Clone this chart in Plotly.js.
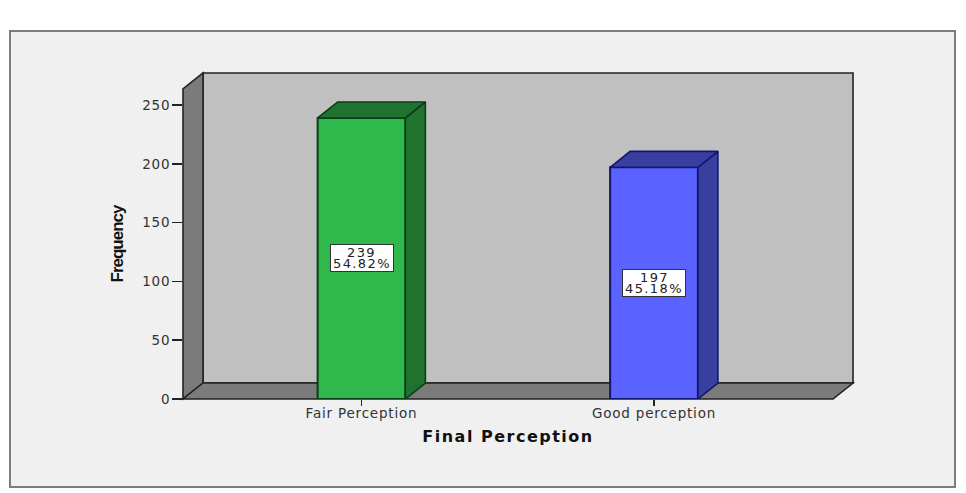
<!DOCTYPE html>
<html>
<head>
<meta charset="utf-8">
<script src="https://cdn.plot.ly/plotly-3.0.1.min.js"></script>
<style>
html,body{margin:0;padding:0;background:#fff;}
#chart{width:966px;height:493px;}
.xtick text,.ytick text{letter-spacing:0.8px;}
.annotation-text{letter-spacing:1.4px;}
.xtitle{letter-spacing:1.5px;}
.ytitle{letter-spacing:-1px;}
</style>
</head>
<body>
<div id="chart"></div>
<script>
const categories = ["Fair Perception", "Good perception"];
const frequencies = [239, 197];
const percents = ["54.82%", "45.18%"];
const barColors = ["#2fb84b", "#5a62ff"];
const sideColors = ["#1f732f", "#393f9e"];
const edgeColors = ["#0b3d16", "#11166e"];
const yTicks = [0, 50, 100, 150, 200, 250];

const W = 966, H = 493, L = 183, R = 833, T = 89, B = 399;
const depthX = 20, depthY = 16;
const xRange = [-0.6103, 1.612], yRange = [0, 263.6];
const barW = 0.30, dX = 0.0684, dY = 13.6;
const wallLine = {color: "#222", width: 1.6};
const labelFont = {family: "DejaVu Sans, sans-serif", size: 13, color: "#222"};
const tickFont = {family: "DejaVu Sans, sans-serif", size: 13.5, color: "#333"};
const px = v => (v - L) / (R - L);
const py = v => (B - v) / (B - T);

function poly(points) {
  return "M" + points.map(p => p[0] + "," + p[1]).join("L") + "Z";
}
function wall(points, fill, line) {
  return {type: "path", xref: "paper", yref: "paper", layer: "below", fillcolor: fill, line: line || wallLine,
    path: poly(points.map(p => [px(p[0]), py(p[1])]))};
}

const traces = [{
  type: "bar", x: [0, 1], y: frequencies, width: barW,
  marker: {color: barColors, line: {color: edgeColors, width: 2}},
  hoverinfo: "skip", showlegend: false
}];
frequencies.forEach((v, i) => {
  const a = i - barW / 2, b = i + barW / 2;
  const style = {type: "scatter", mode: "lines", fill: "toself", fillcolor: sideColors[i],
    line: {color: edgeColors[i], width: 1.6}, hoverinfo: "skip", showlegend: false};
  traces.push(Object.assign({}, style, {
    x: [b, b + dX, b + dX, b, b], y: [0, dY, v + dY, v, 0]}));
  traces.push(Object.assign({}, style, {
    x: [a, a + dX, b + dX, b, a], y: [v, v + dY, v + dY, v, v]}));
});

const shapes = [
  wall([[10, 31], [955, 31], [955, 487], [10, 487]], "#f0f0f0", {color: "#7d7d7d", width: 2}),
  wall([[L + depthX, B - depthY], [R + depthX, B - depthY], [R + depthX, T - depthY], [L + depthX, T - depthY]], "#c0c0c0"),
  wall([[L, B], [L + depthX, B - depthY], [L + depthX, T - depthY], [L, T]], "#7b7b7b"),
  wall([[L, B], [R, B], [R + depthX, B - depthY], [L + depthX, B - depthY]], "#7b7b7b")
];

const annotations = [];
frequencies.forEach((v, i) => {
  annotations.push({x: i, y: v / 2, xref: "x", yref: "y", showarrow: false, text: " ",
    width: 62, height: 26, font: labelFont, bgcolor: "#fff", bordercolor: "#333", borderwidth: 1, borderpad: 0});
  annotations.push({x: i, y: v / 2, yshift: 5.5, xref: "x", yref: "y", showarrow: false, text: String(v), font: labelFont});
  annotations.push({x: i, y: v / 2, yshift: -5.5, xref: "x", yref: "y", showarrow: false, text: percents[i], font: labelFont});
});

const layout = {
  width: W, height: H,
  margin: {l: L, r: W - R, t: T, b: H - B, pad: 0},
  paper_bgcolor: "#fff", plot_bgcolor: "rgba(0,0,0,0)",
  showlegend: false, bargap: 0, shapes, annotations,
  xaxis: {
    range: xRange, tickmode: "array", tickvals: [0, 1], ticktext: categories,
    showgrid: false, zeroline: false, showline: false,
    ticks: "outside", ticklen: 6, tickwidth: 1.5, tickcolor: "#222",
    ticklabelstandoff: -4, tickfont: tickFont,
    title: {text: "Final Perception", standoff: 10,
      font: {family: "DejaVu Sans, sans-serif", size: 16, color: "#111", weight: "bold"}}
  },
  yaxis: {
    range: yRange, tickmode: "array", tickvals: yTicks,
    showgrid: false, zeroline: false, showline: false,
    ticks: "outside", ticklen: 10, tickwidth: 1.5, tickcolor: "#222",
    ticklabelstandoff: -1, tickfont: tickFont,
    title: {text: "Frequency", standoff: 14,
      font: {family: "Liberation Sans, sans-serif", size: 17, color: "#111", weight: "bold"}}
  }
};
Plotly.newPlot("chart", traces, layout, {displayModeBar: false, staticPlot: true});
</script>
</body>
</html>
